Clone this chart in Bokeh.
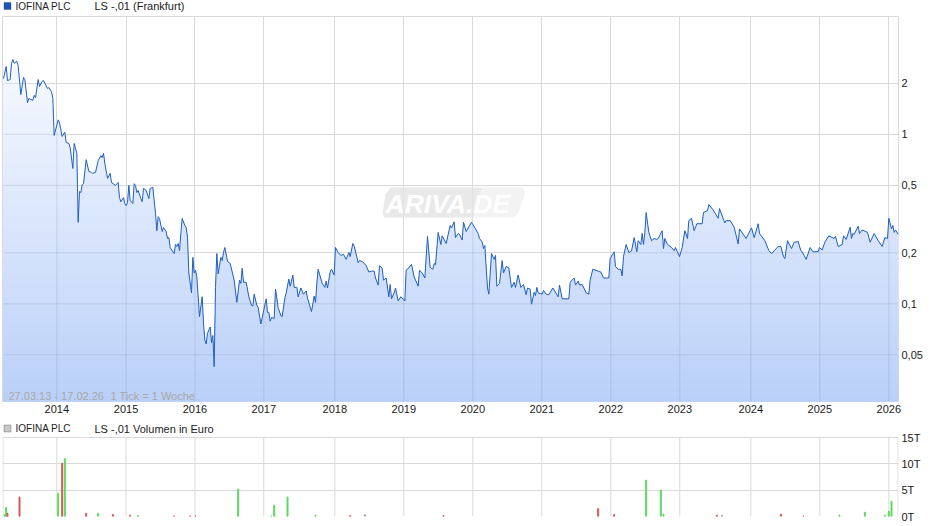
import numpy as np
from bokeh.plotting import figure
from bokeh.layouts import column
from bokeh.models import FixedTicker, Label, PolyAnnotation
from bokeh.embed import file_html
from bokeh.resources import INLINE

# weeks since 27.03.13
weeks = [0,2,3,5,6,7,8,10,11,13,15,16,18,19,22,23,24,26,27,29,30,33,34,36,37,38,41,42,44,46,47,49,50,52,53,55,56,57,58,59,60,62,64,66,67,69,71,73,74,75,76,78,80,81,84,86,87,88,90,91,92,93,94,95,97,98,99,100,101,103,104,105,107,109,110,112,113,114,115,116,117,119,120,122,123,124,125,128,129,130,131,132,133,134,136,137,138,139,141,142,143,144,145,147,149,150,151,152,153,155,156,157,158,159,160,161,163,164,165,166,168,170,173,175,177,178,179,180,182,184,186,187,188,190,191,193,197,198,199,200,201,203,204,206,208,209,211,212,214,215,217,218,220,221,
223,225,227,228,231,233,234,235,236,239,241,242,243,245,246,248,249,251,253,255,257,259,260,262,263,266,267,269,272,274,276,278,279,281,282,284,285,287,289,290,291,293,294,296,298,301,302,303,306,308,309,311,312,314,316,318,320,322,323,324,326,328,329,332,335,336,338,339,341,342,344,345,347,351,354,356,357,359,360,361,363,364,366,368,369,370,372,374,375,377,379,380,381,383,384,386,388,390,392,393,395,396,398,399,400,401,404,405,407,409,412,416,417,419,424,425,428,429,431,432,434,437,439,440,442,446,448,450,454,455,458,459,461,463,464,465,467,469,471,473,475,476,478,479,480,481,482,484,486,488,490,491,494,495,496,498,501,503,504,507,509,511,513,514,516,518,520,524,525,528,529,532,536,537,541,542,545,548,551,552,557,561,563,566,567,571,574,576,581,583,585,586,588,591,593,596,598,599,602,605,607,611,612,614,616,619,623,624,626,629,630,632,635,636,637,638,641,642,644,648,650,653,656,659,661,663,664,666,667,668,669,671]
price = [2.14,2.52,2.08,2.11,2.63,2.77,2.63,2.70,2.55,1.72,2.17,2.11,1.54,1.63,1.59,1.70,1.65,2.11,1.92,2.06,2.08,1.87,1.89,1.79,1.63,.986,1.22,1.17,.973,1.03,.897,.885,.838,.63,.885,.773,.303,.46,.454,.505,.512,.71,.605,.597,.589,.597,.70,.75,.73,.773,.674,.55,.589,.52,.50,.52,.424,.40,.424,.39,.38,.396,.50,.407,.391,.512,.50,.454,.467,.418,.401,.48,.467,.418,.48,.487,.407,.342,.27,.327,.319,.267,.282,.267,.243,.246,.215,.198,.224,.218,.227,.206,.26,.319,.29,.282,.246,.152,.116,.188,.152,.158,.144,.084,.11,.077,.061,.058,.067,.073,.059,.065,.0425,.125,.198,.15,.188,.18,.201,.215,.178,.173,.138,.102,.138,.132,.162,.134,.134,.11,.098,.097,.114,.098,.095,.076,.107,.089,.089,.079,.083,.082,.122,.095,.085,.084,.108,.116,.14,.127,.148,.125,.125,.11,
.124,.114,.119,.108,.09,.111,.102,.132,.16,.132,.125,.136,.124,.154,.16,.148,.215,.201,.193,.196,.183,.201,.19,.227,.22,.175,.18,.178,.168,.154,.156,.156,.142,.129,.168,.162,.138,.142,.11,.13,.107,.116,.124,.104,.11,.104,.158,.16,.171,.144,.138,.127,.158,.152,.142,.25,.164,.16,.173,.17,.264,.224,.252,.227,.29,.28,.305,.246,.26,.257,.238,.303,.267,.303,.277,.26,.243,.232,.212,.221,.124,.114,.198,.183,.193,.127,.132,.18,.152,.166,.163,.142,.125,.134,.125,.148,.125,.13,.113,.124,.122,.0995,.117,.112,.125,.116,.114,.12,.114,.113,.124,.11,.129,.107,.107,.134,.142,.129,.136,.129,.13,.116,.114,.138,.16,.156,.154,.142,.142,.185,.203,.166,.16,.16,.146,.19,.224,.201,.205,.246,.203,.236,.224,.26,.224,.264,.346,.264,.236,.243,.24,.243,.27,.212,.243,.224,.215,.206,.215,.19,.215,.27,.243,.31,.319,.27,.297,.297,.346,.355,.385,.36,.32,.365,.30,.31,.31,.283,.226,.277,.243,.281,.246,.297,.26,.236,.206,.198,.218,.218,.19,.185,.236,.212,.231,.233,.206,.203,.183,.215,.203,.203,.215,.208,.231,.252,.243,.25,.218,.224,.252,.24,.283,.243,.26,.257,.287,.26,.273,.264,.231,.26,.236,.218,.246,.243,.32,.277,.29,.264,.273,.257]

vol_weeks = [1,2,3,12,41,44,46,62,71,82,95,101,128,140,144,176,201,203,213,234,260,271,330,446,458,482,493,495,535,539,583,600,627,646,661,664,666]
vol_values = [.4,1.7,.6,3.7,4.4,10.1,11.0,.6,.6,.4,.25,.2,.1,.1,.1,5.2,.1,2.15,3.7,.25,.2,.38,.2,1.5,.38,6.9,5.0,.45,.25,.25,.45,.1,.25,.8,.25,1.0,2.9]
vol_dir = ["u","u","d","d","u","d","u","d","u","d","d","u","d","d","d","u","u","u","u","u","d","n","d","d","d","u","u","u","d","n","d","d","u","u","u","u","u"]

year_ticks = [40,91.9,143.6,195.2,248.5,300.2,352,403.7,455.5,507.2,560.5,612.2,664]
year_labels = ["2014","2015","2016","2017","2018","2019","2020","2021","2022","2023","2024","2025","2026"]
price_ticks = [2,1,.5,.2,.1,.05]
price_labels = ["2","1","0,5","0,2","0,1","0,05"]
vol_ticks = [0,5,10,15]
vol_labels = ["0T","5T","10T","15T"]

FONT = "Liberation Sans"
GRID = "#d9d9d9"
X_RANGE = (-0.75, 671.25)
Y_RANGE = (0.0265, 4.97)
W = 930

def base(p):
    p.grid.grid_line_color = GRID
    p.grid.grid_line_width = 1
    p.background_fill_color = "white"
    p.border_fill_color = "white"

def text(fig, x, y, s, size="11px", color="#222222", **kw):
    fig.add_layout(Label(x=x, y=y, x_units="canvas", y_units="canvas", text=s,
                         text_font=FONT, text_font_size=size, text_color=color,
                         text_baseline="middle", **kw))

def square(fig, x, y, color):
    fig.add_layout(PolyAnnotation(xs=[x, x+7, x+7, x], ys=[y, y, y+7, y+7],
                                  xs_units="canvas", ys_units="canvas",
                                  fill_color=color, fill_alpha=1,
                                  line_color="#333333", line_width=1))

def header(height, color, name, desc, ty):
    h = figure(width=W, height=height, output_backend="svg", toolbar_location=None,
               x_range=(0, W), y_range=(height, 0), x_axis_location=None, y_axis_location=None,
               min_border_left=0, min_border_right=0, min_border_top=0, min_border_bottom=0)
    h.outline_line_color = None
    h.grid.visible = False
    square(h, 3.5, ty - 3.5, color)
    text(h, 15, ty, name, size="10px")
    text(h, 94, ty, desc)
    return h

h1 = header(15, "#1a56b8", "IOFINA PLC", "LS -,01 (Frankfurt)", 5.5)

TOP = 15  # canvas offset of the price figure in the page
p = figure(width=W, height=405, output_backend="svg", toolbar_location=None,
           x_range=X_RANGE, y_range=Y_RANGE, y_axis_type="log", y_axis_location="right",
           min_border_left=2, min_border_right=W-898, min_border_top=1, min_border_bottom=19)
base(p)
p.outline_line_color = GRID
p.xaxis.ticker = FixedTicker(ticks=year_ticks)
p.xaxis.major_label_overrides = dict(zip(year_ticks, year_labels))
p.yaxis.ticker = FixedTicker(ticks=price_ticks)
p.yaxis.major_label_overrides = dict(zip(price_ticks, price_labels))
p.xgrid.ticker = FixedTicker(ticks=year_ticks)
p.ygrid.ticker = FixedTicker(ticks=price_ticks)
for ax in (p.xaxis[0], p.yaxis[0]):
    ax.axis_line_color = None
    ax.major_tick_line_color = None
    ax.minor_tick_line_color = None
    ax.major_tick_out = 0
    ax.major_label_standoff = 3
    ax.major_label_text_font = FONT
    ax.major_label_text_font_size = "11px"
    ax.major_label_text_color = "#1a1a1a"

w = np.array(weeks, float)
lw = np.log10(np.array(price, float))

def crossings(level):
    d = lw - level
    i = np.where(d[:-1] * d[1:] < 0)[0]
    return w[i] + (w[i+1] - w[i]) * (-d[i]) / (d[i+1] - d[i])

# gradient under the line: opaque layers painted from the top of the frame down
N = 77
edges = np.linspace(np.log10(Y_RANGE[0]), np.log10(Y_RANGE[1]), N + 1)
for k in range(N, 0, -1):
    hi = edges[k]
    if edges[k-1] > lw.max():
        continue
    xs = np.unique(np.concatenate([w, crossings(hi)]))
    ys = np.minimum(np.interp(xs, w, lw), hi)
    a = 0.45 * (N - k + 0.5) / N
    col = "#%02x%02x%02x" % (round(255 - 155 * a), round(255 - 105 * a), round(255 - 15 * a))
    p.varea(x=xs, y1=Y_RANGE[0], y2=10**ys, fill_color=col)

# grid lines seen through the fill
gx0, gy0, gx1, gy1 = [], [], [], []
for t in year_ticks:
    gx0.append(t); gy0.append(Y_RANGE[0]); gx1.append(t); gy1.append(10**np.interp(t, w, lw))
for level in price_ticks:
    l = np.log10(level)
    cuts = np.sort(crossings(l))
    pts = ([w[0]] if lw[0] > l else []) + list(cuts) + ([w[-1]] if lw[-1] > l else [])
    for a0, a1 in zip(pts[0::2], pts[1::2]):
        gx0.append(a0); gy0.append(level); gx1.append(a1); gy1.append(level)
p.segment(gx0, gy0, gx1, gy1, line_color="#3a5a90", line_alpha=0.15, line_width=1)

p.line(weeks, price, line_color="#2060c0", line_width=1)

text(p, 8, 395 - TOP, "27.03.13 - 17.02.26", color="#a8a8a8")
text(p, 110, 395 - TOP, "1 Tick = 1 Woche", color="#a8a8a8")

p.add_layout(PolyAnnotation(xs=[390,482,473,384,382,385],
                            ys=[187-TOP,187-TOP,217-TOP,217-TOP,213-TOP,194-TOP],
                            xs_units="canvas", ys_units="canvas",
                            fill_color="#e4e4e4", fill_alpha=0.8, line_color=None))
p.add_layout(PolyAnnotation(xs=[482,522,525,518,514,473],
                            ys=[187-TOP,187-TOP,192-TOP,212-TOP,217-TOP,217-TOP],
                            xs_units="canvas", ys_units="canvas",
                            fill_color="#f0f0f0", fill_alpha=0.8, line_color=None))
text(p, 385, 203 - TOP, "ARIVA.DE", size="26.5px", color="white", text_font_style="bold italic")

# volume figure: its frame also holds the header row above the 15T line
VOL_MAX = max(vol_ticks)
p2 = figure(width=W, height=106, output_backend="svg", toolbar_location=None,
            x_range=X_RANGE, y_range=(0, VOL_MAX * 96 / 79), y_axis_location="right",
            min_border_left=2, min_border_right=W-898, min_border_top=0, min_border_bottom=10)
base(p2)
p2.outline_line_color = None
p2.xaxis.visible = False
p2.xgrid.visible = False
p2.ygrid.ticker = FixedTicker(ticks=vol_ticks)
edge_x = [X_RANGE[0] + 0.35, X_RANGE[1] - 0.35]
vx = year_ticks + edge_x
p2.segment(vx, [0] * len(vx), vx, [VOL_MAX] * len(vx), line_color=GRID, line_width=1)
ax = p2.yaxis[0]
ax.ticker = FixedTicker(ticks=vol_ticks)
ax.major_label_overrides = dict(zip(vol_ticks, vol_labels))
ax.axis_line_color = None
ax.major_tick_line_color = None
ax.minor_tick_line_color = None
ax.major_tick_out = 0
ax.major_label_standoff = 3
ax.major_label_text_font = FONT
ax.major_label_text_font_size = "11px"
ax.major_label_text_color = "#1a1a1a"

cmap = {"u": "#5fd85f", "d": "#d85858", "n": "#aaaaaa"}
p2.vbar(x=vol_weeks, top=vol_values, bottom=0, width=0.75,
        color=[cmap[d] for d in vol_dir])
square(p2, 3.5, 4.5, "#c8c8c8")
text(p2, 15, 8, "IOFINA PLC", size="10px")
text(p2, 94, 8, "LS -,01 Volumen in Euro")

layout = column(h1, p, p2, spacing=0)
open("out.html", "w").write(file_html(layout, INLINE))
